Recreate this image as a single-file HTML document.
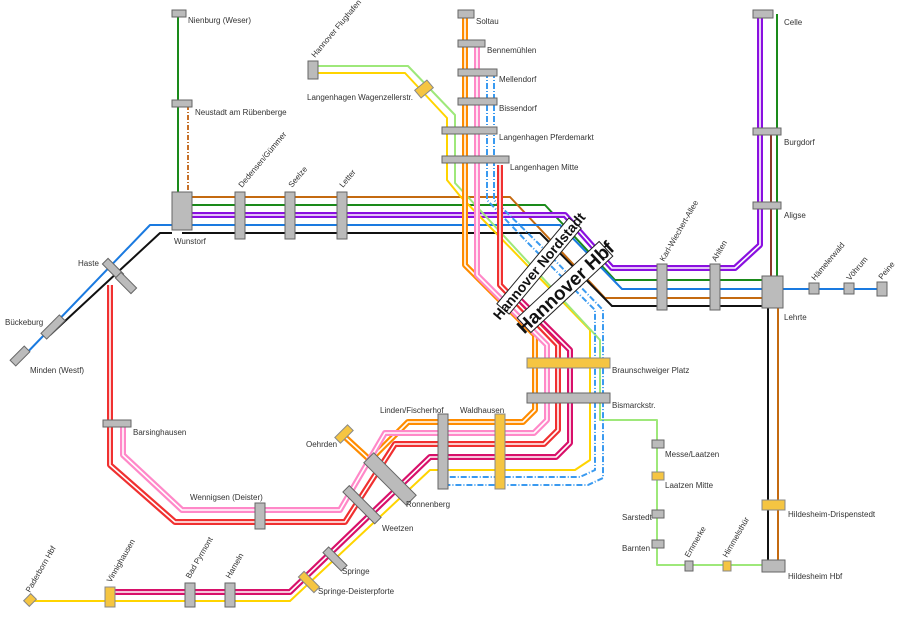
<!DOCTYPE html>
<html><head><meta charset="utf-8"><style>
html,body{margin:0;padding:0;background:#fff}
svg{display:block}
text{font-family:"Liberation Sans",sans-serif;font-size:8px;fill:#333}
.st{fill:#bbb;stroke:#666;stroke-width:1}
.ys{fill:#f5c542;stroke:#888;stroke-width:1}
.l{fill:none;stroke-linejoin:round}
</style></head><body>
<svg width="900" height="619" viewBox="0 0 900 619" xmlns="http://www.w3.org/2000/svg">
<rect width="900" height="619" fill="#fff"/>
<polyline class="l" stroke="#1a8a1a" stroke-width="2" points="178,14 178,205 545,205 615,280 768,280"/>
<polyline class="l" stroke="#c06010" stroke-width="1.8" stroke-dasharray="5,2,1,2" points="188,105 188,195"/>
<polyline class="l" stroke="#c46a10" stroke-width="2" points="188,197 510,197 605,298 768,298"/>
<polyline class="l" stroke="#8a10e0" stroke-width="6" points="182,215 565,215 612,268 735,268 760,245 760,14"/>
<polyline class="l" stroke="#fff" stroke-width="1.6" points="182,215 565,215 612,268 735,268 760,245 760,14"/>
<polyline class="l" stroke="#1a7ae0" stroke-width="2" points="182,225 560,225 622,289 882,289"/>
<polyline class="l" stroke="#1a7ae0" stroke-width="2" points="172,225 150,225 20,360"/>
<polyline class="l" stroke="#111" stroke-width="2" points="182,233 540,233 612,306 768,306 768,565"/>
<polyline class="l" stroke="#111" stroke-width="2" points="172,233 160,233 50,335"/>
<polyline class="l" stroke="#1a8a1a" stroke-width="2" points="777,280 777,14"/>
<polyline class="l" stroke="#8a3a2a" stroke-width="2" points="771,280 771,130"/>
<polyline class="l" stroke="#c46a10" stroke-width="2" points="778,298 778,565"/>
<polyline class="l" stroke="#ffd400" stroke-width="2" points="318,73 405,73 447,118 447,180 460,196 590,330 590,460 575,470 430,470 290,601 30,601"/>
<polyline class="l" stroke="#9ee87a" stroke-width="2" points="318,66 408,66 455,115 455,183 600,340 600,420 657,420 657,565 770,565"/>
<polyline class="l" stroke="#ff8c00" stroke-width="6" points="465,14 465,265 535,335 535,410 523,422 408,422 370,460 345,437"/>
<polyline class="l" stroke="#fff" stroke-width="1.6" points="465,14 465,265 535,335 535,410 523,422 408,422 370,460 345,437"/>
<polyline class="l" stroke="#ff88c8" stroke-width="6" points="477,43 477,275 547,345 547,420 534,433 385,433 340,510 182,510 123,455 123,423"/>
<polyline class="l" stroke="#fff" stroke-width="1.6" points="477,43 477,275 547,345 547,420 534,433 385,433 340,510 182,510 123,455 123,423"/>
<polyline class="l" stroke="#3a9af0" stroke-width="2" stroke-dasharray="6,2,1,2" points="487,72 487,200 530,245 595,310 595,470 580,477 445,477"/>
<polyline class="l" stroke="#3a9af0" stroke-width="2" stroke-dasharray="6,2,1,2" points="494,72 494,200 540,245 603,310 603,478 588,485 445,485"/>
<polyline class="l" stroke="#f03030" stroke-width="6" points="500,165 500,285 558,345 558,430 544,444 395,444 345,522 175,522 110,465 110,285"/>
<polyline class="l" stroke="#fff" stroke-width="1.6" points="500,165 500,285 558,345 558,430 544,444 395,444 345,522 175,522 110,465 110,285"/>
<polyline class="l" stroke="#d8106a" stroke-width="6" points="520,300 570,350 570,443 556,457 430,457 290,592 110,592"/>
<polyline class="l" stroke="#fff" stroke-width="1.6" points="520,300 570,350 570,443 556,457 430,457 290,592 110,592"/>
<rect class="st" x="172" y="10" width="14" height="7"/>
<rect class="st" x="172" y="100" width="20" height="7"/>
<rect class="st" x="172" y="192" width="20" height="38"/>
<rect class="st" x="235" y="192" width="10" height="47"/>
<rect class="st" x="285" y="192" width="10" height="47"/>
<rect class="st" x="337" y="192" width="10" height="47"/>
<rect class="st" x="308" y="61" width="10" height="18"/>
<rect class="st" x="458" y="10" width="16" height="8"/>
<rect class="st" x="458" y="40" width="27" height="7"/>
<rect class="st" x="458" y="69" width="39" height="7"/>
<rect class="st" x="458" y="98" width="39" height="7"/>
<rect class="st" x="442" y="127" width="55" height="7"/>
<rect class="st" x="442" y="156" width="67" height="7"/>
<rect class="ys" x="416" y="84" width="16" height="10" transform="rotate(-40 424 89)"/>
<rect class="st" x="753" y="10" width="20" height="8"/>
<rect class="st" x="753" y="128" width="28" height="7"/>
<rect class="st" x="753" y="202" width="28" height="7"/>
<rect class="st" x="657" y="264" width="10" height="46"/>
<rect class="st" x="710" y="264" width="10" height="46"/>
<rect class="st" x="762" y="276" width="21" height="32"/>
<rect class="st" x="809" y="283" width="10" height="11"/>
<rect class="st" x="844" y="283" width="10" height="11"/>
<rect class="st" x="877" y="282" width="10" height="14"/>
<rect class="st" x="762" y="560" width="23" height="12"/>
<rect class="ys" x="762" y="500" width="23" height="10"/>
<rect class="ys" x="527" y="358" width="83" height="10"/>
<rect class="st" x="527" y="393" width="83" height="10"/>
<rect class="st" x="652" y="440" width="12" height="8"/>
<rect class="ys" x="652" y="472" width="12" height="8"/>
<rect class="st" x="652" y="510" width="12" height="8"/>
<rect class="st" x="652" y="540" width="12" height="8"/>
<rect class="st" x="685" y="561" width="8" height="10"/>
<rect class="ys" x="723" y="561" width="8" height="10"/>
<rect class="st" x="438" y="414" width="10" height="75"/>
<rect class="ys" x="495" y="414" width="10" height="75"/>
<rect class="st" x="103" y="420" width="28" height="7"/>
<rect class="st" x="255" y="503" width="10" height="26"/>
<rect class="ys" x="105" y="587" width="10" height="20"/>
<rect class="st" x="185" y="583" width="10" height="24"/>
<rect class="st" x="225" y="583" width="10" height="24"/>
<rect class="ys" x="25" y="596" width="10" height="8" transform="rotate(-45 30 600)"/>
<rect class="ys" x="335" y="430" width="18" height="8" transform="rotate(-45 344 434)"/>
<rect class="st" x="360" y="472" width="60" height="14" transform="rotate(45 390 479)"/>
<rect class="st" x="340" y="500" width="45" height="9" transform="rotate(45 362 504)"/>
<rect class="st" x="322" y="555" width="26" height="8" transform="rotate(45 335 559)"/>
<rect class="ys" x="298" y="578" width="22" height="8" transform="rotate(45 309 582)"/>
<rect class="st" x="10" y="352" width="20" height="8" transform="rotate(-45 20 356)"/>
<rect class="st" x="40" y="323" width="26" height="8" transform="rotate(-45 53 327)"/>
<rect class="st" x="102" y="265" width="22" height="8" transform="rotate(45 113 269)"/>
<rect class="st" x="115" y="279" width="22" height="8" transform="rotate(45 126 283)"/>
<g transform="translate(539,266) rotate(-50)"><rect x="-56" y="-8" width="112" height="16" fill="#fff" stroke="#222"/><text x="0" y="5" text-anchor="middle" style="font-size:14px;font-weight:bold;fill:#111">Hannover Nordstadt</text></g>
<g transform="translate(565,287) rotate(-43)"><rect x="-56" y="-10" width="112" height="20" fill="#fff" stroke="#222"/><text x="0" y="7" text-anchor="middle" style="font-size:19px;font-weight:bold;fill:#111">Hannover Hbf</text></g>
<text x="188" y="23">Nienburg (Weser)</text>
<text x="195" y="115">Neustadt am Rübenberge</text>
<text x="174" y="244">Wunstorf</text>
<text transform="translate(242,188) rotate(-50)">Dedensen/Gümmer</text>
<text transform="translate(292,188) rotate(-50)">Seelze</text>
<text transform="translate(343,188) rotate(-50)">Letter</text>
<text transform="translate(315,58) rotate(-50)">Hannover Flughafen</text>
<text x="307" y="100">Langenhagen Wagenzellerstr.</text>
<text x="476" y="24">Soltau</text>
<text x="487" y="53">Bennemühlen</text>
<text x="499" y="82">Mellendorf</text>
<text x="499" y="111">Bissendorf</text>
<text x="499" y="140">Langenhagen Pferdemarkt</text>
<text x="510" y="170">Langenhagen Mitte</text>
<text x="784" y="25">Celle</text>
<text x="784" y="145">Burgdorf</text>
<text x="784" y="218">Aligse</text>
<text transform="translate(664,262) rotate(-60)">Karl-Wiechert-Allee</text>
<text transform="translate(716,262) rotate(-60)">Ahlten</text>
<text x="784" y="320">Lehrte</text>
<text transform="translate(815,281) rotate(-50)">Hämelerwald</text>
<text transform="translate(850,281) rotate(-50)">Vöhrum</text>
<text transform="translate(882,280) rotate(-50)">Peine</text>
<text x="78" y="266">Haste</text>
<text x="5" y="325">Bückeburg</text>
<text x="30" y="373">Minden (Westf)</text>
<text x="133" y="435">Barsinghausen</text>
<text x="190" y="500">Wennigsen (Deister)</text>
<text x="306" y="447">Oehrden</text>
<text x="380" y="413">Linden/Fischerhof</text>
<text x="460" y="413">Waldhausen</text>
<text x="612" y="373">Braunschweiger Platz</text>
<text x="612" y="408">Bismarckstr.</text>
<text x="665" y="457">Messe/Laatzen</text>
<text x="665" y="488">Laatzen Mitte</text>
<text x="622" y="520">Sarstedt</text>
<text x="622" y="551">Barnten</text>
<text transform="translate(689,558) rotate(-60)">Emmerke</text>
<text transform="translate(727,558) rotate(-60)">Himmelsthür</text>
<text x="788" y="517">Hildesheim-Drispenstedt</text>
<text x="788" y="579">Hildesheim Hbf</text>
<text x="406" y="507">Ronnenberg</text>
<text x="382" y="531">Weetzen</text>
<text x="342" y="574">Springe</text>
<text x="318" y="594">Springe-Deisterpforte</text>
<text transform="translate(30,593) rotate(-60)">Paderborn Hbf</text>
<text transform="translate(111,583) rotate(-60)">Vinnighausen</text>
<text transform="translate(190,579) rotate(-60)">Bad Pyrmont</text>
<text transform="translate(230,579) rotate(-60)">Hameln</text>
</svg>
</body></html>
